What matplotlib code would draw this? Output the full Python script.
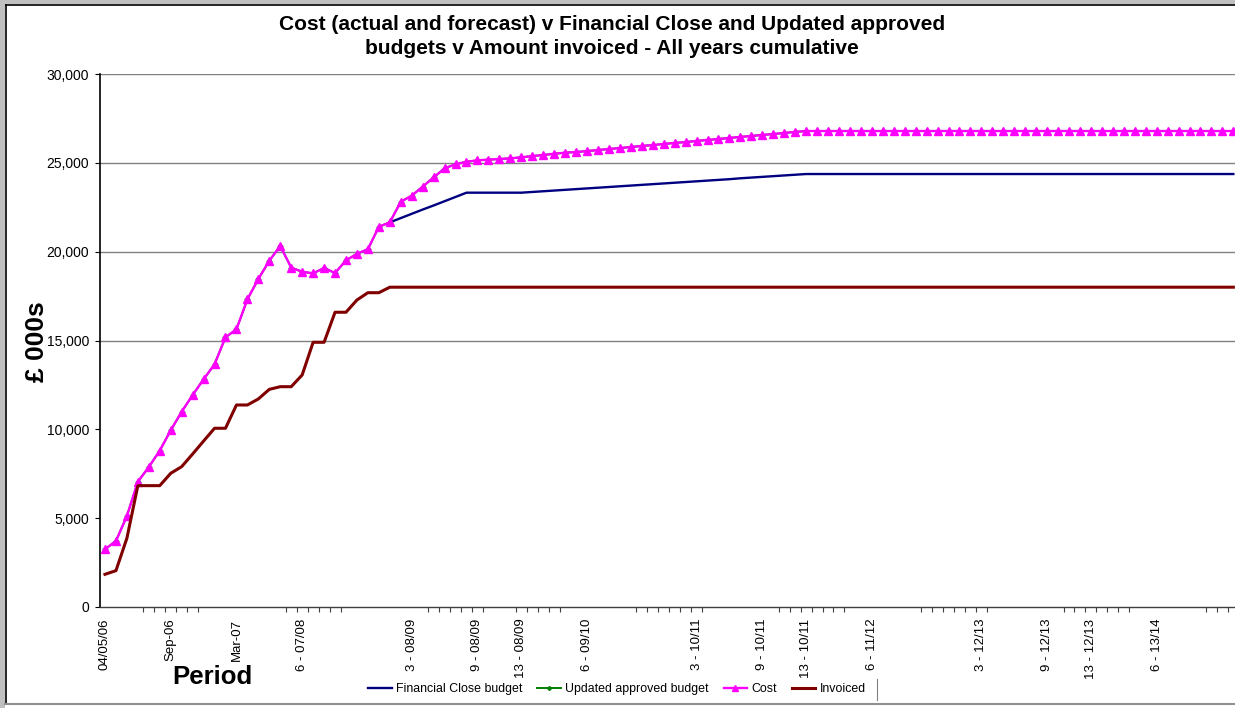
import matplotlib
matplotlib.use("Agg")
import matplotlib.pyplot as plt
from matplotlib.patches import Rectangle
from matplotlib.lines import Line2D
from matplotlib.ticker import FuncFormatter
import numpy as np

plt.rcParams['font.family'] = ['Liberation Sans', 'DejaVu Sans']

# ---------------- data ----------------
cost = [3250, 3715, 5120, 7050, 7880, 8800, 9945, 10990, 11930, 12815,
        13660, 15180, 15630, 17320, 18460, 19490, 20320, 19100, 18870, 18780,
        19080, 18800, 19510, 19880, 20140, 21400, 21650, 22810, 23150, 23660,
        24180, 24690, 24920, 25060, 25140, 25180, 25215, 25250, 25310, 25380,
        25440, 25510, 25570, 25610, 25660, 25720, 25780, 25830, 25890, 25950,
        26000, 26060, 26120, 26170, 26230, 26290, 26340, 26400, 26460, 26510,
        26570, 26620, 26680, 26740, 26790] + [26790] * 39

financial_close = [None] * 26 + [
        21650, 21890, 22130, 22370, 22600, 22840, 23080, 23320, 23320, 23320,
        23320, 23320, 23320, 23360, 23400, 23440, 23480, 23520, 23560, 23600,
        23640, 23680, 23720, 23760, 23800, 23840, 23880, 23920, 23960, 24000,
        24040, 24080, 24130, 24170, 24210, 24250, 24290, 24330] + [24370] * 40

updated_approved = list(cost)

invoiced = [1840, 2045, 3870, 6830, 6830, 6830, 7525, 7900, 8610, 9340,
            10060, 10060, 11370, 11370, 11710, 12250, 12400, 12400, 13060, 14900,
            14900, 16590, 16590, 17280, 17690, 17690, 18000] + [18000] * 77

tick_positions = [0, 6, 12, 18, 28, 34, 38, 44, 54, 60, 64, 70, 80, 86, 90, 96]
tick_labels = ['04/05/06', 'Sep-06', 'Mar-07', '6 - 07/08', '3 - 08/09', '9 - 08/09',
               '13 - 08/09', '6 - 09/10', '3 - 10/11', '9 - 10/11', '13 - 10/11',
               '6 - 11/12', '3 - 12/13', '9 - 12/13', '13 - 12/13', '6 - 13/14']
minor_boundaries = (list(range(4, 10)) + list(range(17, 23)) + list(range(30, 36)) +
                    list(range(38, 43)) + list(range(49, 56)) + list(range(62, 69)) +
                    list(range(75, 82)) + list(range(88, 95)) + list(range(101, 104)))

title = ("Cost (actual and forecast) v Financial Close and Updated approved\n"
         "budgets v Amount invoiced - All years cumulative")

# ---------------- figure ----------------
W, H = 1235, 708
fig = plt.figure(figsize=(W / 100, H / 100), dpi=100)
fig.patch.set_facecolor('white')

n = len(cost)
step = 10.955
left_px, bottom_px, top_px = 99.5, 607, 74
ax = fig.add_axes([left_px / W, (H - bottom_px) / H, n * step / W, (bottom_px - top_px) / H])

x = np.arange(n)
fc = np.array([np.nan if v is None else v for v in financial_close], dtype=float)

ax.plot(x, fc, color='#000080', lw=1.7, label='Financial Close budget', zorder=3)
ax.plot(x, updated_approved, color='#008000', lw=1.4, marker='D', ms=2.5,
        label='Updated approved budget', zorder=4)
ax.plot(x, cost, color='#FF00FF', lw=1.7, marker='^', ms=5.5, mec='#FF00FF',
        label='Cost', zorder=5)
ax.plot(x, invoiced, color='#800000', lw=2.2, label='Invoiced', zorder=6)

ax.set_xlim(-0.5, n - 0.5)
ax.set_ylim(0, 30000)
ax.set_yticks(range(0, 30001, 5000))
ax.yaxis.set_major_formatter(FuncFormatter(lambda v, p: f"{int(v):,}"))
for gy in [15000, 20000, 25000, 30000]:
    ax.axhline(gy, color='#808080', lw=1.0, zorder=1)

ax.set_xticks(tick_positions)
ax.set_xticklabels(tick_labels, rotation=90, fontsize=9.5)
ax.set_xticks([b - 0.5 for b in minor_boundaries], minor=True)
ax.tick_params(axis='x', which='major', length=0, pad=8.4)
ax.tick_params(axis='x', which='minor', length=3.6, width=0.8, color='#404040', direction='out')
ax.tick_params(axis='y', which='major', length=3.6, width=0.8, labelsize=10, pad=4)

for s in ['top', 'right']:
    ax.spines[s].set_visible(False)
ax.spines['left'].set_linewidth(1.2)
ax.spines['bottom'].set_linewidth(1.0)
ax.spines['bottom'].set_color('#404040')

fig.text(612 / W, 1 - 36.5 / H, title, ha='center', va='center', fontsize=15,
         fontweight='bold', linespacing=1.38)
fig.text(37 / W, 1 - 342 / H, '£ 000s', rotation=90, ha='center', va='center',
         fontsize=19, fontweight='bold')
fig.text(212 / W, 1 - 677 / H, 'Period', ha='center', va='center', fontsize=18.5,
         fontweight='bold')

handles, labels = ax.get_legend_handles_labels()
leg = fig.legend(handles, labels, loc='center', bbox_to_anchor=(617 / W, 1 - 689 / H),
                 ncol=4, frameon=False, fontsize=8.9, handlelength=1.9,
                 handletextpad=0.35, columnspacing=1.2, markerscale=0.8)

# frame artefacts from the screenshot
fig.add_artist(Rectangle((0, 0), 5 / W, 1, transform=fig.transFigure,
                         facecolor='#c0c0c0', edgecolor='none', zorder=0))
fig.add_artist(Rectangle((0, 1 - 4 / H), 1, 4 / H, transform=fig.transFigure,
                         facecolor='#c0c0c0', edgecolor='none', zorder=0))
fig.add_artist(Line2D([5.5 / W, 5.5 / W], [4 / H, 1 - 4.5 / H], transform=fig.transFigure,
                      color='black', lw=1.2))
fig.add_artist(Line2D([5.5 / W, 1], [1 - 4.5 / H, 1 - 4.5 / H], transform=fig.transFigure,
                      color='black', lw=1.2))
fig.add_artist(Line2D([5 / W, 1], [1 - 703.5 / H, 1 - 703.5 / H], transform=fig.transFigure,
                      color='#909090', lw=1.5))
fig.add_artist(Line2D([877 / W, 877 / W], [1 - 679 / H, 1 - 700 / H], transform=fig.transFigure,
                      color='#808080', lw=0.8))

fig.savefig('out.png', dpi=100, facecolor='white')
